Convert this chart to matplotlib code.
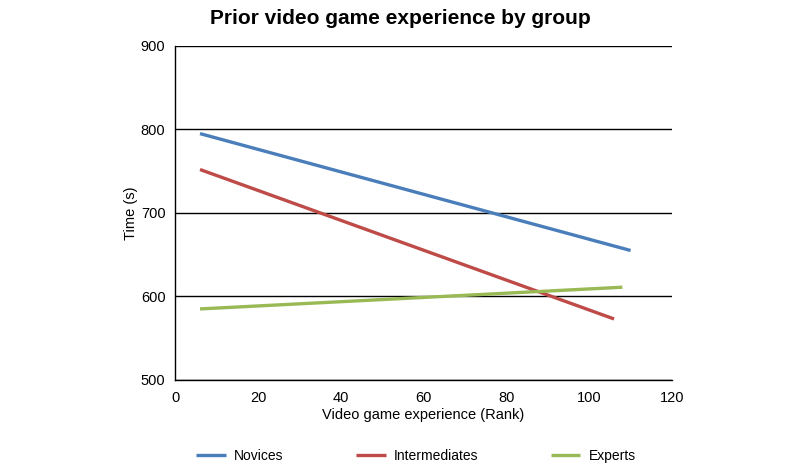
import matplotlib.pyplot as plt

plt.rcParams['font.family'] = ['Liberation Sans', 'DejaVu Sans']

groups = ['Novices', 'Intermediates', 'Experts']
colors = ['#4A7EBB', '#BE4B48', '#98B954']
# endpoints of fitted lines (rank, time)
novices_x = [6, 110]
novices_y = [795, 655]
intermediates_x = [6, 106]
intermediates_y = [752, 573]
experts_x = [6, 108]
experts_y = [585, 611]

xs = [novices_x, intermediates_x, experts_x]
ys = [novices_y, intermediates_y, experts_y]

fig = plt.figure(figsize=(8, 4.69), dpi=100)
ax = fig.add_axes([0.219, 0.19, 0.621, 0.712])

for x, y, c, g in zip(xs, ys, colors, groups):
    ax.plot(x, y, color=c, linewidth=2.4, label=g, solid_capstyle='butt', zorder=3)

ax.set_xlim(0, 120)
ax.set_ylim(500, 900)
ax.set_xticks(range(0, 121, 20))
ax.set_yticks(range(500, 901, 100))
ax.yaxis.grid(True, color='black', linewidth=1)
ax.set_axisbelow(True)
for s in ['top', 'right']:
    ax.spines[s].set_visible(False)
for s in ['left', 'bottom']:
    ax.spines[s].set_linewidth(1)
ax.tick_params(length=0, labelsize=10.5, pad=8)
ax.tick_params(axis='y', pad=7)
ax.set_xlabel('Video game experience (Rank)', fontsize=10.5, labelpad=2)
ax.set_ylabel('Time (s)', fontsize=10.5, labelpad=2)

fig.suptitle('Prior video game experience by group', fontsize=15, fontweight='bold', y=0.98)

fig.legend(loc='center', bbox_to_anchor=(0.52, 0.027), ncol=3, frameon=False,
           fontsize=10, handlelength=2.15, columnspacing=5.2, handletextpad=0.58,
           borderpad=0, borderaxespad=0)

fig.savefig('out.png', dpi=100)
